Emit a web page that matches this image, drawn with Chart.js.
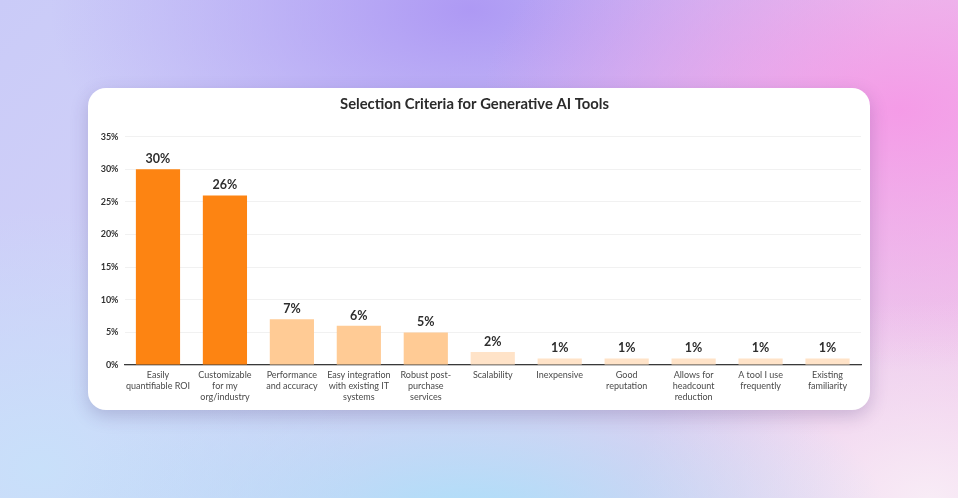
<!DOCTYPE html>
<html lang="en">

  <head>
    <meta charset="UTF-8">
    <title>Selection Criteria for Generative AI Tools</title>
    <script src="https://cdn.jsdelivr.net/npm/chart.js"></script>
    <style>
      html, body {
        margin: 0;
        padding: 0;
        width: 958px;
        height: 498px;
        overflow: hidden;
      }

      body {
        font-family: Lato, Arial, sans-serif;
        /* fondo degradado tipo pastel */
        background:
          radial-gradient(ellipse 420px 260px at 900px 110px, rgba(246, 150, 230, 0.9), rgba(246, 150, 230, 0) 100%),
          radial-gradient(ellipse 420px 240px at 470px 10px, rgba(172, 150, 244, 0.95), rgba(172, 150, 244, 0) 100%),
          radial-gradient(ellipse 420px 200px at 470px 530px, rgba(170, 224, 250, 1), rgba(170, 224, 250, 0) 100%),
          radial-gradient(ellipse 320px 260px at 40px 470px, rgba(200, 224, 250, 1), rgba(200, 224, 250, 0) 100%),
          radial-gradient(ellipse 300px 200px at 930px 500px, rgba(248, 236, 246, 1), rgba(248, 236, 246, 0) 100%),
          linear-gradient(135deg, #cacbf8 0%, #d2d2f8 35%, #e6cdf0 65%, #f1c6ea 100%);
      }

      .card {
        position: absolute;
        left: 88px;
        top: 88px;
        width: 782px;
        height: 322px;
        background: #ffffff;
        border-radius: 18px;
        box-shadow: 0 6px 18px rgba(60, 40, 110, 0.22);
        overflow: hidden;
      }
    </style>
  </head>

  <body>
    <div class="card">
      <canvas id="criteriaChart"></canvas>
    </div>

    <script>
      const categories = [
        ['Easily', 'quantifiable ROI'],
        ['Customizable', 'for my', 'org/industry'],
        ['Performance', 'and accuracy'],
        ['Easy integration', 'with existing IT', 'systems'],
        ['Robust post-', 'purchase', 'services'],
        ['Scalability'],
        ['Inexpensive'],
        ['Good', 'reputation'],
        ['Allows for', 'headcount', 'reduction'],
        ['A tool I use', 'frequently'],
        ['Existing', 'familiarity']
      ];
      const shares = [30, 26, 7, 6, 5, 2, 1, 1, 1, 1, 1];
      const yTicks = [0, 5, 10, 15, 20, 25, 30, 35];

      // color según el tramo del valor
      function barColor(v) {
        if (v >= 20) return '#fd8412';
        if (v >= 5) return '#ffcb95';
        return '#ffe3c8';
      }

      // etiquetas de valor encima de cada barra
      const valueLabels = {
        id: 'valueLabels',
        afterDatasetsDraw(chart) {
          const ctx = chart.ctx;
          const meta = chart.getDatasetMeta(0);
          ctx.save();
          ctx.font = 'bold 12.5px Lato, Arial, sans-serif';
          ctx.fillStyle = '#2e2e2e';
          ctx.textAlign = 'center';
          ctx.textBaseline = 'bottom';
          meta.data.forEach((bar, i) => {
            ctx.fillText(shares[i] + '%', bar.x, bar.y - 4);
          });
          ctx.restore();
        }
      };

      const ctx = document.getElementById('criteriaChart').getContext('2d');
      new Chart(ctx, {
        type: 'bar',
        data: {
          labels: categories,
          datasets: [{
            data: shares,
            backgroundColor: shares.map(barColor),
            borderWidth: 0,
            categoryPercentage: 1,
            barPercentage: 0.66
          }]
        },
        plugins: [valueLabels],
        options: {
          responsive: true,
          maintainAspectRatio: false,
          animation: false,
          layout: {
            padding: { left: 0, right: 9, top: 0, bottom: 0 }
          },
          plugins: {
            legend: { display: false },
            tooltip: { enabled: false },
            title: {
              display: true,
              text: 'Selection Criteria for Generative AI Tools',
              color: '#2b2b2b',
              font: { family: 'Lato, Arial, sans-serif', size: 14.8, weight: 'bold' },
              padding: { top: 7, bottom: 24 }
            }
          },
          scales: {
            y: {
              min: 0,
              max: 35,
              afterBuildTicks: (axis) => {
                axis.ticks = yTicks.map(v => ({ value: v }));
              },
              afterFit: (axis) => { axis.width = 36.5; },
              ticks: {
                color: '#333',
                padding: 6,
                font: { family: 'Lato, Arial, sans-serif', size: 9, weight: 'bold' },
                callback: (v) => v + '%'
              },
              grid: {
                color: '#f1f1f1',
                drawTicks: false
              },
              border: { display: false }
            },
            x: {
              afterFit: (axis) => { axis.height = 45; },
              ticks: {
                color: '#4a4a4a',
                padding: 5,
                autoSkip: false,
                maxRotation: 0,
                font: { family: 'Lato, Arial, sans-serif', size: 9, lineHeight: 1.2 }
              },
              grid: { display: false, drawTicks: false },
              border: { display: true, color: '#3a3a3a', width: 1.3 }
            }
          }
        }
      });
    </script>
  </body>

</html>
